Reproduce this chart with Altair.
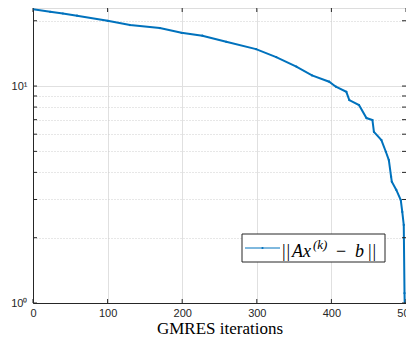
import altair as alt
import pandas as pd

iterations = [0, 23, 40, 59, 100, 130, 170, 199, 227, 259, 299, 326, 353, 374, 397, 406,
              420, 424, 437, 447, 455, 457, 467, 473, 477, 480, 481, 487, 493, 495, 497, 498, 500]
residual = [22.6, 22.0, 21.6, 21.1, 20.0, 19.1, 18.5, 17.6, 17.06, 16.0, 14.8, 13.6, 12.3, 11.2,
            10.47, 9.93, 9.41, 8.62, 8.17, 7.12, 6.97, 6.15, 5.64, 4.98, 4.56, 3.82, 3.62, 3.32,
            2.98, 2.63, 2.29, 1.11, 0.5]
x_ticks = [0, 100, 200, 300, 400, 500]
y_ticks = [1, 2, 3, 4, 5, 6, 7, 8, 9, 10, 20]
x_title = "GMRES iterations"

W, H = 373, 295
df = pd.DataFrame({"it": iterations, "r": residual})
xs = alt.Scale(domain=[0, 500], nice=False)
ys = alt.Scale(type="log", domain=[1, 22.9], nice=False)
AX = "#262626"
SANS = "Liberation Sans"
SERIF = "Liberation Serif"

xaxis = alt.Axis(values=x_ticks, tickSize=0, labelPadding=4, labelFont=SANS, labelFontSize=11,
                 labelColor=AX, domainColor=AX, gridColor="#e0e0e0", title=x_title,
                 titleFont=SERIF, titleFontSize=17, titleFontWeight="normal", titleColor="#000",
                 titlePadding=2, labelFlush=False)
yaxis = alt.Axis(values=y_ticks, tickSize=0, labelPadding=6, labelFont=SANS, labelFontSize=11,
                 labelColor=AX, domainColor=AX, title=None,
                 labelExpr="datum.value == 10 ? '10¹' : datum.value == 1 ? '10⁰' : ''",
                 gridColor=alt.condition("datum.value == 10 || datum.value == 1", alt.value("#e0e0e0"), alt.value("#cfcfcf")),
                 gridDash=alt.condition("datum.value == 10 || datum.value == 1", alt.value([]), alt.value([1, 2])))

base = alt.Chart(df)
line = base.mark_line(color="#0072BD", strokeWidth=2.0, clip=True).encode(
    x=alt.X("it:Q", scale=xs, axis=xaxis),
    y=alt.Y("r:Q", scale=ys, axis=yaxis),
)
pts = base.mark_point(color="#0072BD", filled=True, size=5, opacity=1, clip=True).encode(
    x=alt.X("it:Q", scale=xs), y=alt.Y("r:Q", scale=ys))

ydf = pd.DataFrame({"v": y_ticks})
yt_left = alt.Chart(ydf).mark_rule(color=AX, strokeWidth=1).encode(
    y=alt.Y("v:Q", scale=ys), x=alt.value(0), x2=alt.value(4))
yt_right = alt.Chart(ydf).mark_rule(color=AX, strokeWidth=1).encode(
    y=alt.Y("v:Q", scale=ys), x=alt.value(W - 4), x2=alt.value(W))
xdf = pd.DataFrame({"v": x_ticks})
xt_bot = alt.Chart(xdf).mark_rule(color=AX, strokeWidth=1).encode(
    x=alt.X("v:Q", scale=xs), y=alt.value(H - 4), y2=alt.value(H))
xt_top = alt.Chart(xdf).mark_rule(color=AX, strokeWidth=1).encode(
    x=alt.X("v:Q", scale=xs), y=alt.value(0), y2=alt.value(4))

# legend
lg_box = alt.Chart(pd.DataFrame({"a": [0]})).mark_rect(fill="white", stroke=AX, strokeWidth=1).encode(
    x=alt.value(209), x2=alt.value(352), y=alt.value(226), y2=alt.value(254))
lg_line = alt.Chart(pd.DataFrame({"a": [0]})).mark_rule(color="#0072BD", strokeWidth=1).encode(
    x=alt.value(212), x2=alt.value(247), y=alt.value(240))
lg_dot = alt.Chart(pd.DataFrame({"a": [0]})).mark_point(color="#0072BD", filled=True, size=5, opacity=1).encode(
    x=alt.value(229.5), y=alt.value(240))

def txt(s, x, y, size=18, style="normal"):
    return alt.Chart(pd.DataFrame({"t": [s]})).mark_text(
        font=SERIF, fontSize=size, fontStyle=style, align="left", baseline="alphabetic", color="#000"
    ).encode(text="t:N", x=alt.value(x), y=alt.value(y))

lg_text = [
    txt("|", 249, 249), txt("|", 253.5, 249),
    txt("Ax", 259, 249, style="italic"),
    txt("(k)", 280, 241, size=13, style="italic"),
    txt("−", 303, 249),
    txt("b", 322, 249, style="italic"),
    txt("|", 335, 249), txt("|", 339.5, 249),
]

chart = alt.layer(line, pts, yt_left, yt_right, xt_bot, xt_top, lg_box, lg_line, lg_dot, *lg_text).properties(
    width=W, height=H,
    autosize=alt.AutoSizeParams(type="none"),
    padding={"left": 25, "top": 0, "right": 0, "bottom": 36},
).configure_view(stroke=AX, strokeWidth=1).configure(background="white")

chart.save("out.html", embed_options={"renderer": "svg", "actions": False})
